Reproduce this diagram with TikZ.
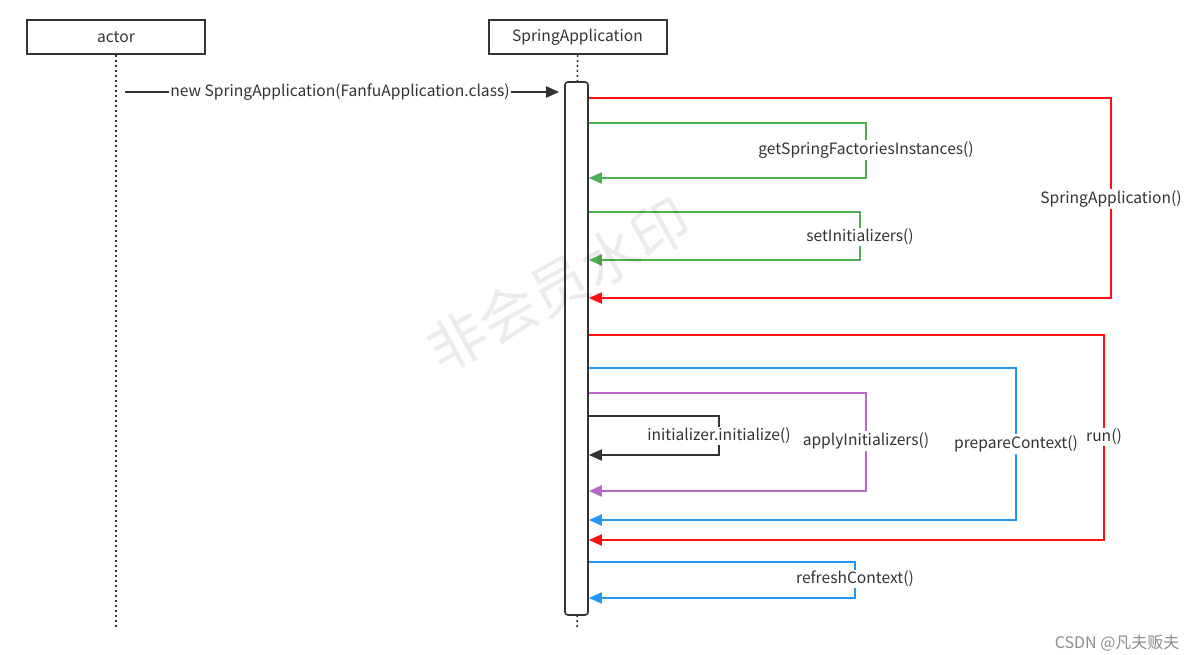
\documentclass[tikz,border=0pt]{standalone}
\usepackage{fontspec}
\setmainfont{Noto Sans CJK SC}
\usetikzlibrary{arrows.meta}
\definecolor{cred}{HTML}{FF1010}
\definecolor{cgreen}{HTML}{4CAF50}
\definecolor{cblue}{HTML}{2196F3}
\definecolor{cpurple}{HTML}{BA68C8}
\definecolor{cdark}{HTML}{333333}
\definecolor{ctext}{HTML}{333333}
\tikzset{
  objbox/.style={draw=cdark, line width=2pt, minimum width=178pt, minimum height=34pt, inner sep=0pt, text=ctext},
  lifeline/.style={draw=cdark, line width=1.5pt, dash pattern=on 2pt off 3pt},
  actbar/.style={draw=cdark, line width=1.6pt, fill=white, rounded corners=3pt, minimum width=23pt, minimum height=533pt, inner sep=0pt},
  tip/.style={-{Triangle[length=13pt,width=11pt]}},
  callline/.style={line width=2pt, tip},
  lbl/.style={fill=white, inner sep=1.5pt, text=ctext},
}
\begin{document}
\begin{tikzpicture}[x=1pt,y=-1pt, font=\fontsize{15.6}{17}\selectfont]
\useasboundingbox (0,0) rectangle (1201,655);
% objects
\node[objbox] (actor) at (116,37) {actor};
\node[objbox] (sa) at (577.5,37) {SpringApplication};
\coordinate (actorend) at (116,630);
\coordinate (saend) at (577,630);
\draw[lifeline] (actor.south) -- (actorend);
\draw[lifeline] (sa.south) -- (saend);
\node[actbar] (bar) at (576.5,348.5) {};
% creation message
\coordinate (m0) at (125,92);
\draw[line width=2pt, draw=cdark, -{Triangle[length=13pt,width=11pt]}, shorten >=5pt] (m0) -- (bar.west |- m0);
\node[lbl, inner sep=1pt] (mlbl) at (340,92) {new SpringApplication(FanfuApplication.class)};
% SpringApplication()
\draw[callline, cred] (bar.east |- 0,98) -- (1111,98) -- (1111,298) -- (bar.east |- 0,298);
\node[lbl] (l1) at (1111,199) {SpringApplication()};
% getSpringFactoriesInstances()
\draw[callline, cgreen] (bar.east |- 0,123) -- (866,123) -- (866,178) -- (bar.east |- 0,178);
\node[lbl] (l2) at (866,150) {getSpringFactoriesInstances()};
% setInitializers()
\draw[callline, cgreen] (bar.east |- 0,212) -- (860,212) -- (860,260) -- (bar.east |- 0,260);
\node[lbl] (l3) at (860,237) {setInitializers()};
% run()
\draw[callline, cred] (bar.east |- 0,335) -- (1104,335) -- (1104,540) -- (bar.east |- 0,540);
\node[lbl] (l4) at (1104,437) {run()};
% prepareContext()
\draw[callline, cblue] (bar.east |- 0,368) -- (1016,368) -- (1016,520) -- (bar.east |- 0,520);
\node[lbl] (l5) at (1016,444) {prepareContext()};
% applyInitializers()
\draw[callline, cpurple] (bar.east |- 0,393) -- (866,393) -- (866,491) -- (bar.east |- 0,491);
\node[lbl] (l6) at (866,441) {applyInitializers()};
% initializer.initialize()
\draw[callline, cdark] (bar.east |- 0,416) -- (719,416) -- (719,455) -- (bar.east |- 0,455);
\node[lbl] (l7) at (719,436) {initializer.initialize()};
% refreshContext()
\draw[callline, cblue] (bar.east |- 0,562) -- (855,562) -- (855,598) -- (bar.east |- 0,598);
\node[lbl] (l8) at (855,579) {refreshContext()};
% watermark (semi-transparent overlay)
\node[rotate=29, text=black, opacity=0.08, font=\fontsize{58}{58}\selectfont] (wm) at (559,285) {非会员水印};
% footer
\node[anchor=east, text=black!45, font=\fontsize{16}{17}\selectfont] (csdn) at (1183,643) {CSDN @凡夫贩夫};
\end{tikzpicture}
\end{document}
